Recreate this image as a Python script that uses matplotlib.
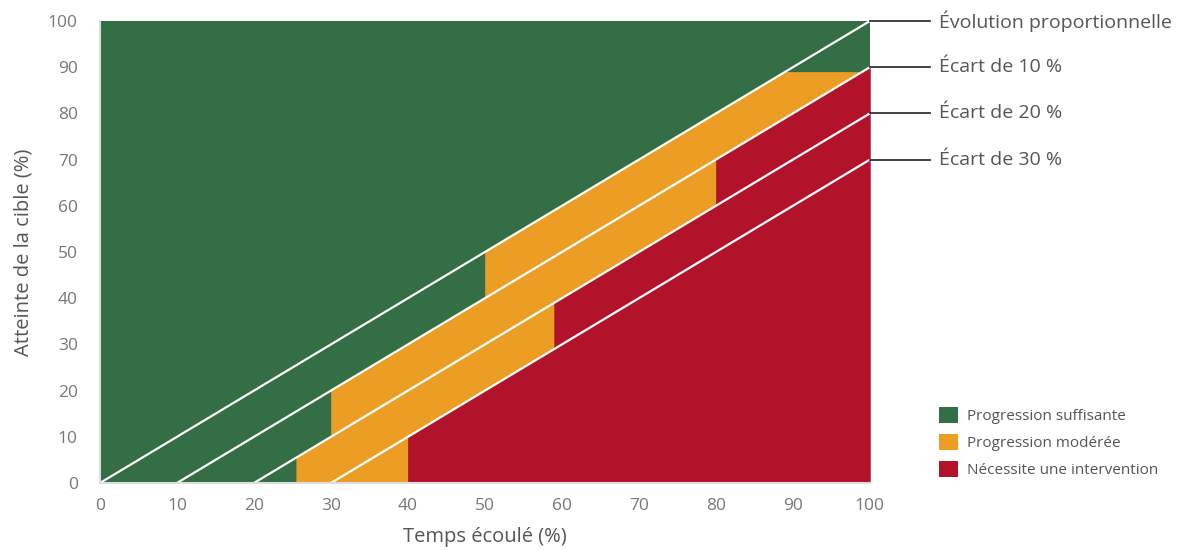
import numpy as np
import matplotlib
matplotlib.use('Agg')
import matplotlib.pyplot as plt
from matplotlib.patches import Patch

plt.rcParams['font.family'] = ['Open Sans', 'DejaVu Sans']

# Gap lines (y = x - gap) and their labels
gaps = [0, 10, 20, 30]
gap_labels = ['Évolution proportionnelle', 'Écart de 10 %', 'Écart de 20 %', 'Écart de 30 %']

# Bands between consecutive gap lines: where orange / red start (x, %)
orange_start = [50, 30, 25.5, 30]
red_start = [None, 80, 59, 40]
orange_cap = 89  # top band turns back to green above this value

ticks = [0, 10, 20, 30, 40, 50, 60, 70, 80, 90, 100]

legend_labels = ['Progression suffisante', 'Progression modérée', 'Nécessite une intervention']
green = '#336e44'
orange = '#ec9e24'
red = '#b2122a'
colors = [green, orange, red]

fig = plt.figure(figsize=(12.03, 5.5), dpi=100)
ax = fig.add_axes([0.0831, 0.1218, 0.640, 0.840])

ax.set_xlim(0, 100)
ax.set_ylim(0, 100)

# background: everything is "suffisante" unless covered
ax.fill_between([0, 100], 0, 100, color=green, lw=0)


def fill_band(i, x0, x1, color, cap=100):
    g = gaps[i]
    x = np.linspace(x0, x1, 400)
    upper = np.minimum(x - g, cap)
    if i + 1 < len(gaps):
        lower = np.maximum(x - gaps[i + 1], 0)
    else:
        lower = np.zeros_like(x)
    ax.fill_between(x, lower, upper, where=upper > lower, color=color,
                    lw=0.4, edgecolor=color, interpolate=True)


for i in range(len(gaps)):
    stop = red_start[i] if red_start[i] is not None else 100
    cap = orange_cap if i == 0 else 100
    fill_band(i, orange_start[i], stop, orange, cap)
    if red_start[i] is not None:
        fill_band(i, red_start[i], 100, red)

# white diagonal lines
for g in gaps:
    ax.plot([g, 100], [0, 100 - g], color='white', lw=1.6, solid_capstyle='butt')

# leader lines and labels on the right
for g, lab in zip(gaps, gap_labels):
    ax.plot([100, 107.8], [100 - g, 100 - g], color='#333333', lw=1.3, clip_on=False)
    ax.text(109, 100 - g, lab, va='center', ha='left', fontsize=14, color='#555555')

ax.set_xticks(ticks)
ax.set_yticks(ticks)
ax.tick_params(axis='both', length=0, labelsize=12.5, labelcolor='#777777')
ax.tick_params(axis='x', pad=11)
ax.tick_params(axis='y', pad=16)
for s in ['top', 'right']:
    ax.spines[s].set_visible(False)
for s in ['left', 'bottom']:
    ax.spines[s].set_color('#dddddd')
    ax.spines[s].set_linewidth(1.5)

ax.set_xlabel('Temps écoulé (%)', fontsize=14.5, color='#555555', labelpad=9)
ax.set_ylabel('Atteinte de la cible (%)', fontsize=14.5, color='#555555', labelpad=10)

handles = [Patch(facecolor=c, edgecolor='none') for c in colors]
fig.legend(handles, legend_labels, loc='upper left', bbox_to_anchor=(0.769, 0.285),
           frameon=False, fontsize=11, labelcolor='#555555', handlelength=1.25,
           handleheight=1.25, handletextpad=0.6, labelspacing=0.64)

fig.savefig('out.png', dpi=100)
